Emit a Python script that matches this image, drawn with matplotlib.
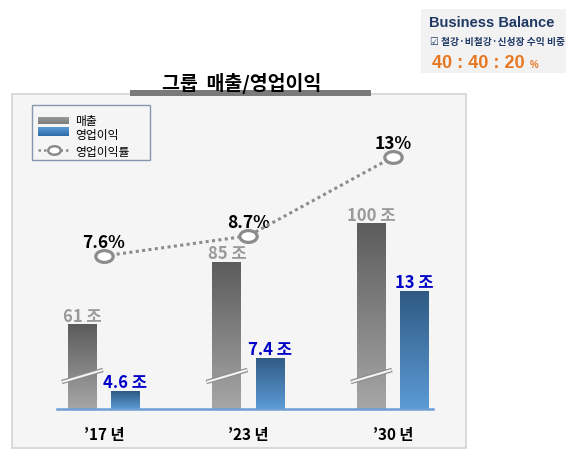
import matplotlib
matplotlib.use("Agg")
import matplotlib.pyplot as plt
import numpy as np
from matplotlib.patches import Rectangle
from matplotlib.path import Path
from matplotlib.colors import to_rgb
import matplotlib.transforms as mtransforms

plt.rcParams['font.family'] = ['Noto Sans CJK KR', 'DejaVu Sans']

# ---------------- data ----------------
years = ["’17 년", "’23 년", "’30 년"]
sales = [61, 85, 100]          # 매출 (조)
profit = [4.6, 7.4, 13]        # 영업이익 (조)
margin = [7.6, 8.7, 13]        # 영업이익률 (%)
mix = ["40", "40", "20"]       # 철강 : 비철강 : 신성장

# axis windows (broken axes)
sales_lim = (28.2, 144.0)
profit_lim = (3.09, 28.3)
margin_lim = (-0.75, 15.62)

W, H = 581, 464
fig = plt.figure(figsize=(W / 100, H / 100), dpi=100)
bg = fig.add_axes([0, 0, 1, 1])
bg.set_xlim(0, W)
bg.set_ylim(H, 0)
bg.axis('off')


def grad(ax, x0, x1, ybot, ytop, ctop, cbot, clip=None, zorder=2):
    n = 64
    c0 = np.array(to_rgb(ctop))
    c1 = np.array(to_rgb(cbot))
    t = np.linspace(0, 1, n)[:, None]
    arr = (c0 * (1 - t) + c1 * t)[:, None, :]
    im = ax.imshow(arr, extent=(x0, x1, ybot, ytop), origin='upper',
                   aspect='auto', interpolation='bilinear', zorder=zorder)
    if clip is not None:
        im.set_clip_path(clip)
    return im


# panel
bg.add_patch(Rectangle((12, 95), 454, 354, facecolor='#f5f5f5',
                       edgecolor='#d4d4d4', lw=1.2))
bg.add_patch(Rectangle((130, 91), 241, 6, facecolor='#7a7a7a', edgecolor='none'))
bg.text(242, 83, "그룹  매출/영업이익", ha='center', va='center',
        fontsize=14, fontweight='bold', color='black')

# legend
bg.add_patch(Rectangle((32, 106), 118, 55, facecolor='none',
                       edgecolor='#8497b0', lw=1))
grad(bg, 38, 69, 125, 118, '#9a9a9a', '#7c7c7c')
grad(bg, 38, 69, 137, 128, '#5b9bd5', '#2f6aa8')
bg.plot([38, 69], [151, 151], color='#8c8c8c', lw=1.8, linestyle=(0, (1, 1.2)))
ell = Path(Path.unit_circle().vertices * np.array([1, 0.68]), Path.unit_circle().codes)
bg.plot([53.5], [151], marker=ell, ms=9, mfc='white', mec='#8c8c8c', mew=1.8)
for yy, s in zip([122, 135.5, 152.5], ["매출", "영업이익", "영업이익률"]):
    bg.text(75, yy, s, ha='left', va='center', fontsize=8.5, color='black')

# top-right box
bg.add_patch(Rectangle((421, 10), 145, 64, facecolor='#f2f2f2', edgecolor='none'))
bg.text(492, 23, "Business Balance", ha='center', va='center', fontsize=10.5,
        fontweight='bold', color='#1f3864', family=['Liberation Sans', 'DejaVu Sans'])
bg.text(430, 42, "☑ 철강·비철강·신성장 수익 비중", ha='left', va='center',
        fontsize=7, color='#1f3864', fontweight='bold',
        family=['Noto Sans CJK KR', 'DejaVu Sans'])
bg.text(432, 63, " : ".join(mix), ha='left', va='center', fontsize=13,
        fontweight='bold', color='#e87722', family=['Liberation Sans', 'DejaVu Sans'])
bg.text(530, 65, "%", ha='left', va='center', fontsize=7,
        fontweight='bold', color='#e87722', family=['Liberation Sans', 'DejaVu Sans'])

# ---------------- main axes ----------------
ax = fig.add_axes([57 / W, (H - 410) / H, (433 - 57) / W, 300 / H])
ax.patch.set_alpha(0)
ax2 = ax.twinx()
ax3 = ax.twinx()

x = np.arange(len(years))
xlim = (-0.325, 2.277)
off = 0.149
bw = 0.2

sbars = ax.bar(x - off, np.array(sales) - sales_lim[0], bottom=sales_lim[0],
               width=bw, facecolor='none', edgecolor='none')
for r, v in zip(sbars, sales):
    grad(ax, r.get_x(), r.get_x() + r.get_width(), sales_lim[0], v,
         '#5c5c5c', '#a6a6a6', clip=r)
    ax.annotate(f"{v:g} 조", (r.get_x() + r.get_width() / 2, v), xytext=(0, 2.5),
                textcoords='offset points', ha='center', va='baseline',
                fontsize=12, fontweight='bold', color='#9a9a9a')

pbars = ax2.bar(x + off, np.array(profit) - profit_lim[0], bottom=profit_lim[0],
                width=bw, facecolor='none', edgecolor='none')
for r, v in zip(pbars, profit):
    grad(ax2, r.get_x(), r.get_x() + r.get_width(), profit_lim[0], v,
         '#2f5a84', '#5b9bd5', clip=r)
    ax2.annotate(f"{v:g} 조", (r.get_x() + r.get_width() / 2, v), xytext=(0, 3),
                 textcoords='offset points', ha='center', va='baseline',
                 fontsize=12, fontweight='bold', color='#0000c8')

# axis-break marks on sales bars
tr = mtransforms.blended_transform_factory(ax.transData, ax.transAxes)
for xi in x - off:
    ax.plot([xi - 0.142, xi + 0.142], [0.09, 0.13], transform=tr,
            color='#8c8c8c', lw=3.2, solid_capstyle='butt', zorder=5, clip_on=False)
    ax.plot([xi - 0.14, xi + 0.14], [0.09, 0.13], transform=tr,
            color='#f4f4f4', lw=1.5, solid_capstyle='butt', zorder=6, clip_on=False)

# margin line
ax3.plot(x, margin, color='#8c8c8c', lw=2.2, linestyle=(0, (1, 1.1)),
         marker=ell, ms=12.5, mfc='white', mec='#8c8c8c', mew=2.3, zorder=5)
for xi, v in zip(x, margin):
    ax3.annotate(f"{v:g}%", (xi, v), xytext=(0, 10), textcoords='offset points',
                 ha='center', va='center', fontsize=12.5, fontweight='bold',
                 color='black')

for a, lim in ((ax, sales_lim), (ax2, profit_lim), (ax3, margin_lim)):
    a.set_xlim(*xlim)
    a.set_ylim(*lim)
    for s in a.spines.values():
        s.set_visible(False)
    a.set_yticks([])

ax3.spines['bottom'].set_visible(True)
ax3.spines['bottom'].set_color('#6c9fd6')
ax3.spines['bottom'].set_linewidth(1.8)

ax.set_xticks(x)
ax.set_xticklabels(years, fontsize=11, fontweight='bold', color='black')
ax.tick_params(axis='x', length=0, pad=12)

fig.savefig("out.png", dpi=100, facecolor='white')
